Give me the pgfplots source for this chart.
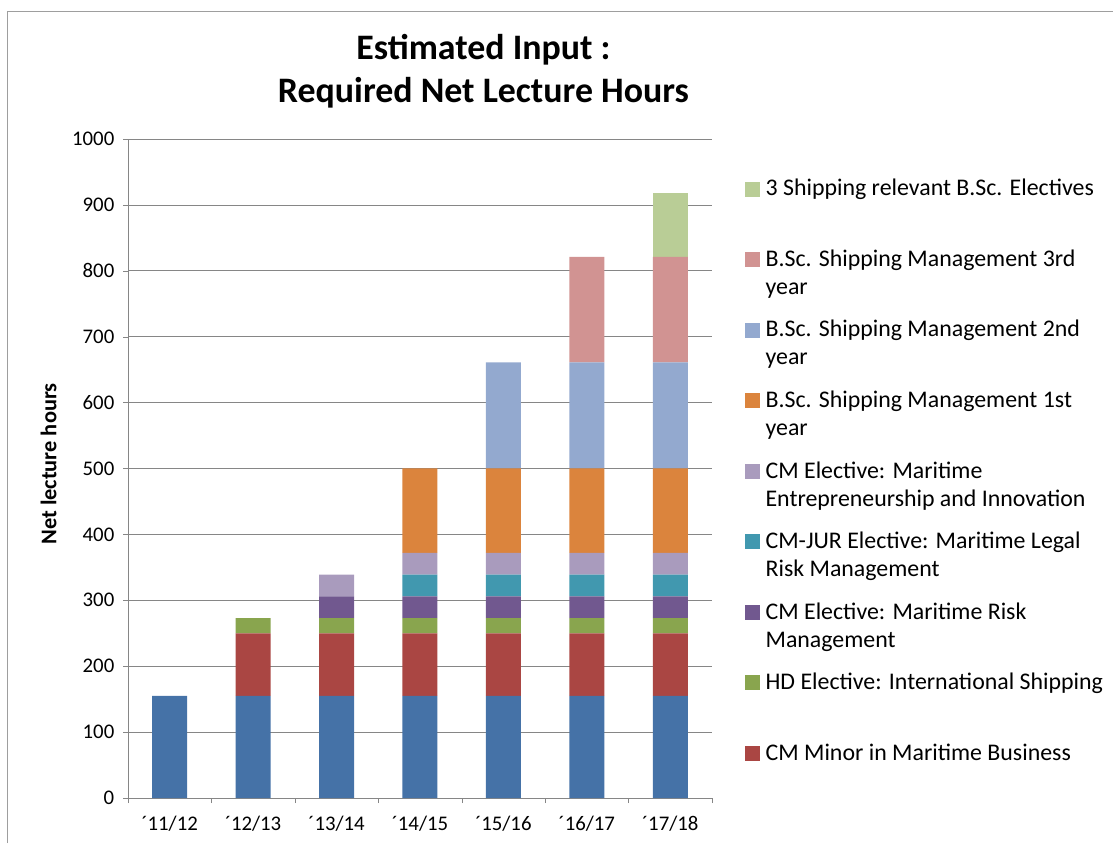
\documentclass[border=0pt]{standalone}
\usepackage{pgfplots}
\pgfplotsset{compat=1.18}
\usepackage{fontspec}
\setmainfont{Carlito}
\definecolor{cBase}{HTML}{4572A7}
\definecolor{cRed}{HTML}{AA4643}
\definecolor{cGreen}{HTML}{89A54E}
\definecolor{cPurple}{HTML}{71588F}
\definecolor{cTeal}{HTML}{4198AF}
\definecolor{cLilac}{HTML}{A99BBD}
\definecolor{cOrange}{HTML}{DB843D}
\definecolor{cLBlue}{HTML}{93A9CF}
\definecolor{cPink}{HTML}{D19392}
\definecolor{cLGreen}{HTML}{B9CD96}
\definecolor{gridgray}{HTML}{868686}
\newcommand{\legbox}[1]{\parbox[b][51.4pt][t]{270pt}{\raggedright\rule{0pt}{13pt}#1}}
\begin{document}
\begin{tikzpicture}
\useasboundingbox (0,0) rectangle (834.75pt,632.25pt);
\draw[gridgray!80,line width=0.6pt] (5.6pt,0) |- (834.75pt,624pt);
\begin{axis}[
  at={(96pt,33.75pt)}, anchor=south west,
  scale only axis, width=438pt, height=494.25pt,
  ybar stacked, bar width=26.25pt,
  xmin=-0.5, xmax=6.5, ymin=0, ymax=1000,
  ytick={0,100,...,1000},
  xtick={-0.5,0.5,...,6.5}, xticklabels={},
  extra x ticks={0,1,2,3,4,5,6},
  extra x tick labels={´11/12,´12/13,´13/14,´14/15,´15/16,´16/17,´17/18},
  extra x tick style={major tick length=0pt},
  axis x line*=bottom, axis y line*=left,
  axis line style={draw=gridgray,-},
  tick style={draw=gridgray},
  tick align=outside, major tick length=3.75pt,
  ymajorgrids, major grid style={draw=gridgray,line width=0.5pt},
  /pgf/number format/assume math mode=true,
  /pgf/number format/1000 sep={},
  ticklabel style={font=\fontsize{15.6}{18}\selectfont},
  yticklabel style={xshift=-3pt},
  xticklabel style={yshift=-10pt},
  reverse legend,
  legend image code/.code={\fill[#1] (0pt,37.9pt) rectangle (11.25pt,49.15pt);},
  legend style={at={(1.0565,0.9404)}, anchor=north west, draw=none, fill=none,
    inner sep=0pt, row sep=0pt, column sep=4pt,
    nodes={inner sep=0pt}, cells={anchor=base west},
    font=\fontsize{17.9}{21}\selectfont},
]
\addplot[fill=cBase,draw=none,forget plot] coordinates {(0,155) (1,155) (2,155) (3,155) (4,155) (5,155) (6,155)};
\addplot[fill=cRed,draw=none] coordinates {(0,0) (1,95) (2,95) (3,95) (4,95) (5,95) (6,95)};
\addlegendentry{\legbox{CM Minor in Maritime Business}}
\addplot[fill=cGreen,draw=none] coordinates {(0,0) (1,23) (2,23) (3,23) (4,23) (5,23) (6,23)};
\addlegendentry{\legbox{HD Elective: International Shipping}}
\addplot[fill=cPurple,draw=none] coordinates {(0,0) (1,0) (2,33) (3,33) (4,33) (5,33) (6,33)};
\addlegendentry{\legbox{CM Elective: Maritime Risk\\Management}}
\addplot[fill=cTeal,draw=none] coordinates {(0,0) (1,0) (2,0) (3,33) (4,33) (5,33) (6,33)};
\addlegendentry{\legbox{CM-JUR Elective: Maritime Legal\\Risk Management}}
\addplot[fill=cLilac,draw=none] coordinates {(0,0) (1,0) (2,33) (3,33) (4,33) (5,33) (6,33)};
\addlegendentry{\legbox{CM Elective: Maritime\\Entrepreneurship and Innovation}}
\addplot[fill=cOrange,draw=none] coordinates {(0,0) (1,0) (2,0) (3,128) (4,128) (5,128) (6,128)};
\addlegendentry{\legbox{B.Sc. Shipping Management 1st\\year}}
\addplot[fill=cLBlue,draw=none] coordinates {(0,0) (1,0) (2,0) (3,0) (4,161) (5,161) (6,161)};
\addlegendentry{\legbox{B.Sc. Shipping Management 2nd\\year}}
\addplot[fill=cPink,draw=none] coordinates {(0,0) (1,0) (2,0) (3,0) (4,0) (5,160) (6,160)};
\addlegendentry{\legbox{B.Sc. Shipping Management 3rd\\year}}
\addplot[fill=cLGreen,draw=none] coordinates {(0,0) (1,0) (2,0) (3,0) (4,0) (5,0) (6,97)};
\addlegendentry{\legbox{3 Shipping relevant B.Sc. Electives}}
\end{axis}
\node[font=\bfseries\fontsize{26.9}{32.25}\selectfont, align=center] at (362.6pt,578.6pt) {Estimated Input :\\Required Net Lecture Hours};
\node[font=\bfseries\fontsize{16.8}{20}\selectfont, rotate=90] at (36.4pt,284.25pt) {Net lecture hours};
\end{tikzpicture}
\end{document}
